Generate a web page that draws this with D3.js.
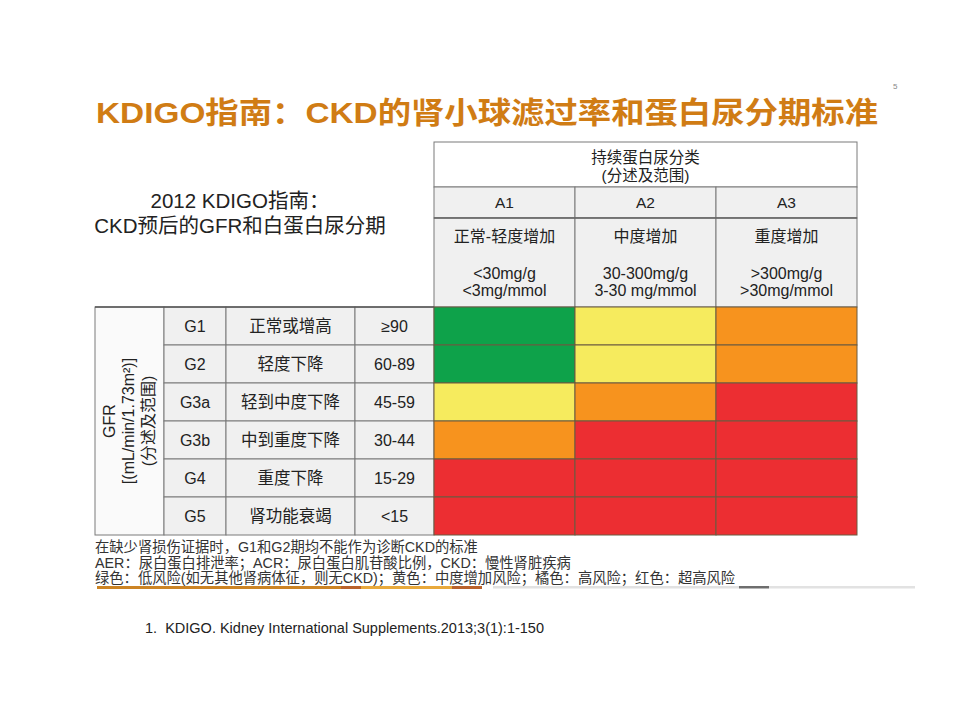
<!DOCTYPE html>
<html><head><meta charset="utf-8">
<script src="https://cdn.jsdelivr.net/npm/d3@7"></script>
<style>
html,body{margin:0;padding:0;background:#fff;}
svg text{font-family:"Liberation Sans","Noto Sans CJK SC",sans-serif;}
</style></head>
<body><svg id="c" width="960" height="720"></svg>
<script>
// ---- data ----
const gfrStages = ["G1","G2","G3a","G3b","G4","G5"];
const gfrNames = ["正常或增高","轻度下降","轻到中度下降","中到重度下降","重度下降","肾功能衰竭"];
const gfrRanges = ["≥90","60-89","45-59","30-44","15-29","<15"];
const albCats = ["A1","A2","A3"];
const albNames = ["正常-轻度增加","中度增加","重度增加"];
const albRangeMg = ["<30mg/g","30-300mg/g",">300mg/g"];
const albRangeMmol = ["<3mg/mmol","3-30 mg/mmol",">30mg/mmol"];
const riskLevels = ["低风险","中度增加风险","高风险","超高风险"];
const riskMatrix = [
  ["低风险","中度增加风险","高风险"],
  ["低风险","中度增加风险","高风险"],
  ["中度增加风险","高风险","超高风险"],
  ["高风险","超高风险","超高风险"],
  ["超高风险","超高风险","超高风险"],
  ["超高风险","超高风险","超高风险"]
];
const titleText = "KDIGO指南：CKD的肾小球滤过率和蛋白尿分期标准";
const subtitleLines = ["2012 KDIGO指南：","CKD预后的GFR和白蛋白尿分期"];
const headerLines = ["持续蛋白尿分类","(分述及范围)"];
const gfrLabelLines = ["GFR","[(mL/min/1.73m²)]","(分述及范围)"];
const notes = [
  "在缺少肾损伤证据时，G1和G2期均不能作为诊断CKD的标准",
  "AER：尿白蛋白排泄率；ACR：尿白蛋白肌苷酸比例，CKD：慢性肾脏疾病",
  "绿色：低风险(如无其他肾病体征，则无CKD)；黄色：中度增加风险；橘色：高风险；红色：超高风险"
];
const reference = "1.  KDIGO. Kidney International Supplements.2013;3(1):1-150";

// ---- drawing ----
const svg = d3.select("#c");
const color = d3.scaleOrdinal().domain(riskLevels).range(["#0ea24a","#f6eb5e","#f7931e","#ec2e32"]);
const x = d3.scaleBand().domain(albCats).range([434,857]);
const y = d3.scaleBand().domain(gfrStages).range([307,535]);
const lineCol = "#7a7a7a";
const txt = "#222";

// title
svg.append("text").attr("x",96).attr("y",123).attr("font-size",30).attr("font-weight","bold")
  .attr("fill","#d07c14").attr("textLength",782).attr("lengthAdjust","spacingAndGlyphs").text(titleText);
svg.append("text").attr("x",893).attr("y",89).attr("font-size",8).attr("fill","#888").text("5");

// subtitle
svg.selectAll("text.sub").data(subtitleLines).join("text").attr("class","sub")
  .attr("x",240).attr("y",(d,i)=>208+i*24.5).attr("text-anchor","middle").attr("font-size",20.5).attr("fill",txt).text(d=>d);

// header rows
const hTop=142,hA=187,hDesc=218,hBot=307;
svg.append("rect").attr("x",434).attr("y",hTop).attr("width",423).attr("height",hA-hTop).attr("fill","#fff").attr("stroke",lineCol);
svg.selectAll("rect.hA").data(albCats).join("rect").attr("class","hA")
  .attr("x",d=>x(d)).attr("y",hA).attr("width",x.bandwidth()).attr("height",hDesc-hA).attr("fill","#f0f0f0").attr("stroke",lineCol);
svg.selectAll("rect.hD").data(albCats).join("rect").attr("class","hD")
  .attr("x",d=>x(d)).attr("y",hDesc).attr("width",x.bandwidth()).attr("height",hBot-hDesc).attr("fill","#f0f0f0").attr("stroke",lineCol);
svg.append("line").attr("x1",434).attr("x2",857).attr("y1",hDesc).attr("y2",hDesc).attr("stroke","#666").attr("stroke-width",1.6);
svg.selectAll("text.hl").data(headerLines).join("text").attr("class","hl")
  .attr("x",645.5).attr("y",(d,i)=>163+i*18).attr("text-anchor","middle").attr("font-size",15.5).attr("fill",txt).text(d=>d);
svg.selectAll("text.ac").data(albCats).join("text").attr("class","ac")
  .attr("x",d=>x(d)+x.bandwidth()/2).attr("y",208).attr("text-anchor","middle").attr("font-size",15.5).attr("fill",txt).text(d=>d);
svg.selectAll("text.an").data(albNames).join("text").attr("class","an")
  .attr("x",(d,i)=>x(albCats[i])+x.bandwidth()/2).attr("y",242).attr("text-anchor","middle").attr("font-size",16).attr("fill",txt).text(d=>d);
svg.selectAll("text.ar1").data(albRangeMg).join("text").attr("class","ar1")
  .attr("x",(d,i)=>x(albCats[i])+x.bandwidth()/2).attr("y",279).attr("text-anchor","middle").attr("font-size",16).attr("fill",txt).text(d=>d);
svg.selectAll("text.ar2").data(albRangeMmol).join("text").attr("class","ar2")
  .attr("x",(d,i)=>x(albCats[i])+x.bandwidth()/2).attr("y",296).attr("text-anchor","middle").attr("font-size",16).attr("fill",txt).text(d=>d);

// left table
const cols = [{x0:95,x1:164},{x0:164,x1:226},{x0:226,x1:355},{x0:355,x1:434}];
svg.append("rect").attr("x",cols[0].x0).attr("y",307).attr("width",cols[0].x1-cols[0].x0).attr("height",228).attr("fill","#fafafa").attr("stroke",lineCol);
const rowG = svg.selectAll("g.row").data(gfrStages).join("g").attr("class","row");
[1,2,3].forEach(ci=>{
  rowG.append("rect").attr("x",cols[ci].x0).attr("y",d=>y(d)).attr("width",cols[ci].x1-cols[ci].x0).attr("height",y.bandwidth())
    .attr("fill","#f0f0f0").attr("stroke",lineCol);
});
const cy = d=>y(d)+y.bandwidth()/2+6;
rowG.append("text").attr("x",(cols[1].x0+cols[1].x1)/2).attr("y",cy).attr("text-anchor","middle").attr("font-size",16).attr("fill",txt).text(d=>d);
rowG.append("text").attr("x",(cols[2].x0+cols[2].x1)/2).attr("y",cy).attr("text-anchor","middle").attr("font-size",16.5).attr("fill",txt).text((d,i)=>gfrNames[i]);
rowG.append("text").attr("x",(cols[3].x0+cols[3].x1)/2).attr("y",cy).attr("text-anchor","middle").attr("font-size",16).attr("fill",txt).text((d,i)=>gfrRanges[i]);
svg.append("line").attr("x1",95).attr("x2",434).attr("y1",307).attr("y2",307).attr("stroke","#555").attr("stroke-width",1.6);

// rotated GFR label
const gl = svg.append("g").attr("transform","translate(129,421) rotate(-90)");
gl.selectAll("text").data(gfrLabelLines).join("text")
  .attr("x",0).attr("y",(d,i)=>(i-1)*19.5+5).attr("text-anchor","middle").attr("font-size",16).attr("fill",txt).text(d=>d);

// risk grid
const cells = [];
riskMatrix.forEach((row,ri)=>row.forEach((v,ci)=>cells.push({g:gfrStages[ri],a:albCats[ci],v})));
svg.selectAll("rect.cell").data(cells).join("rect").attr("class","cell")
  .attr("x",d=>x(d.a)).attr("y",d=>y(d.g)).attr("width",x.bandwidth()).attr("height",y.bandwidth())
  .attr("fill",d=>color(d.v)).attr("stroke","#6a5a40").attr("stroke-width",1);

// notes
svg.selectAll("text.note").data(notes).join("text").attr("class","note")
  .attr("x",95).attr("y",(d,i)=>552+i*15.5).attr("font-size",14.3).attr("fill","#333").text(d=>d);

// decorative bar
const barSegs = [
  {x0:97,x1:341,c:"#cc8424",h:3},
  {x0:341,x1:361,c:"#b9622c",h:3},
  {x0:361,x1:452,c:"#e8a93c",h:3},
  {x0:452,x1:482,c:"#b9622c",h:3},
  {x0:493,x1:739,c:"#e2e2e2",h:2.5},
  {x0:739,x1:769,c:"#6e6e6e",h:2.5},
  {x0:769,x1:915,c:"#e2e2e2",h:2.5}
];
svg.selectAll("rect.bar").data(barSegs).join("rect").attr("class","bar")
  .attr("x",d=>d.x0).attr("y",586).attr("width",d=>d.x1-d.x0).attr("height",d=>d.h).attr("fill",d=>d.c);

svg.append("text").attr("x",145).attr("y",633).attr("font-size",14.5).attr("fill",txt).attr("xml:space","preserve").text(reference);
</script></body></html>
